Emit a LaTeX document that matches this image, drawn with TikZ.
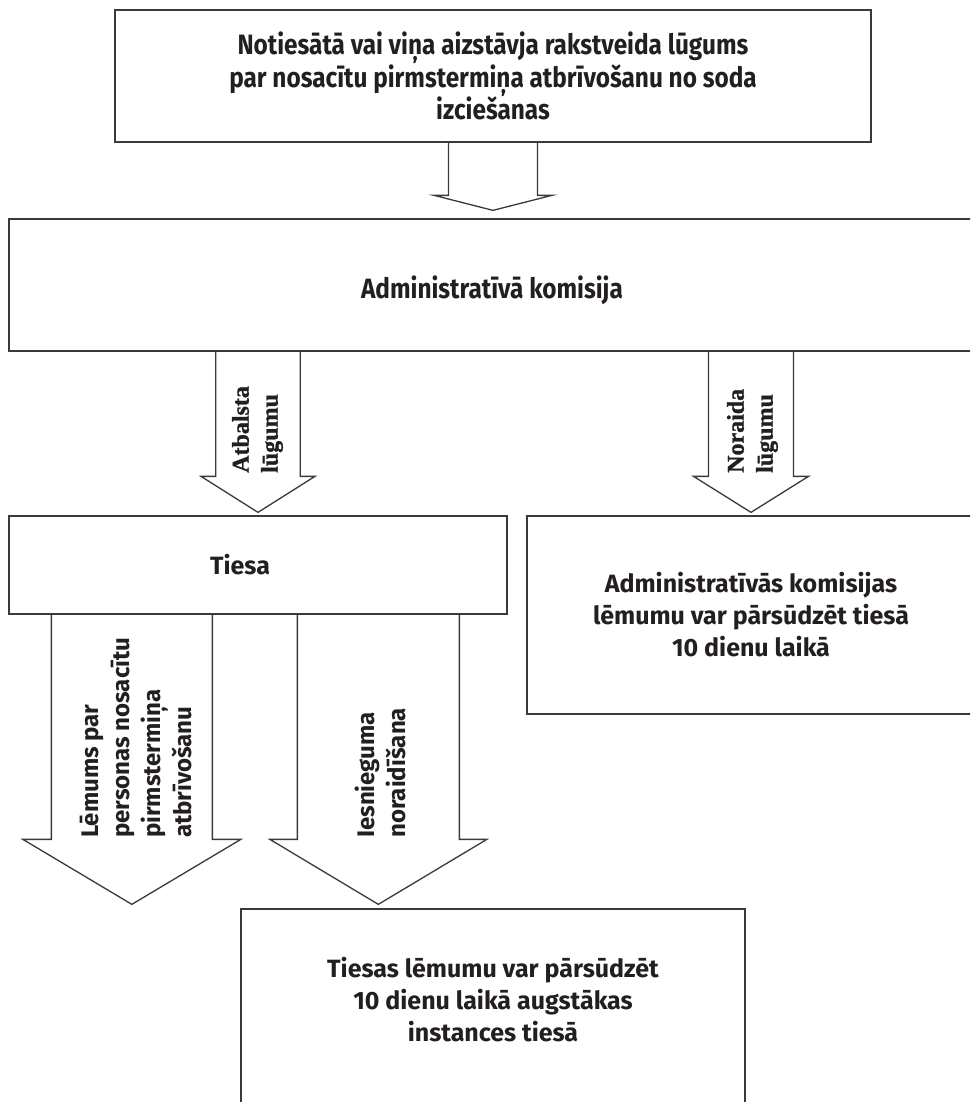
\documentclass[tikz,border=0pt]{standalone}
\usepackage{fontspec}
\setmainfont{Fira Sans}
\newfontfamily\condfont[FakeStretch=0.87]{Fira Sans}
\newfontfamily\serifb[BoldFeatures={FakeBold=1.2}]{Liberation Serif}
\usetikzlibrary{calc}
\definecolor{lc}{HTML}{3A3A3A}
\definecolor{tc}{HTML}{231F20}
\newcommand\barrow[6]{%
  \draw[arrowline] let \p1=(#1), \p2=(#2) in
    (\x1-#3pt,\y1) -- (\x1-#3pt,\y2+#6pt+#5pt) -- (\x1-#4pt,\y2+#6pt+#5pt)
    -- (\x1,\y2+#6pt) -- (\x1+#4pt,\y2+#6pt+#5pt) -- (\x1+#3pt,\y2+#6pt+#5pt)
    -- (\x1+#3pt,\y1);}
\begin{document}
\begin{tikzpicture}[x=1pt,y=-1pt,
  box/.style={draw=lc, line width=1.3pt, inner sep=0pt, align=center, text=tc},
  arrowline/.style={draw=lc, line width=1.3pt, line join=miter},
  toptext/.style={font=\condfont\bfseries\fontsize{28}{31}\selectfont, text=tc, align=center},
  boldtext/.style={font=\bfseries\fontsize{25}{32}\selectfont, text=tc, align=center},
  vlabel/.style={font=\bfseries\fontsize{24}{31}\selectfont, text=tc, rotate=90, align=left, anchor=west, inner sep=0pt},
  vserif/.style={font=\serifb\bfseries\fontsize{24}{29}\selectfont, text=tc, rotate=90, align=left, anchor=west, inner sep=0pt}]
\path[use as bounding box] (0,0) rectangle (970,1102);
\clip (0,0) rectangle (970,1102);
\fill[white] (0,0) rectangle (970,1102);

\node[box, toptext, minimum width=756pt, minimum height=132pt] (top) at (493,76)
  {Notiesātā vai viņa aizstāvja rakstveida lūgums\\par nosacītu pirmstermiņa atbrīvošanu no soda\\izciešanas};

\node[box, minimum width=966pt, minimum height=132pt,
  label={[toptext, yshift=-5pt]center:Administratīvā komisija}] (admin) at (492,285) {};

\node[box, minimum width=498pt, minimum height=98pt,
  label={[boldtext, xshift=-18pt]center:Tiesa}] (tiesa) at (258,565) {};

\node[box, boldtext, minimum width=448pt, minimum height=198pt] (komis) at (751,615)
  {Administratīvās komisijas\\lēmumu var pārsūdzēt tiesā\\10 dienu laikā};

\node[box, minimum width=504pt, minimum height=201pt,
  label={[boldtext, yshift=9.5pt]center:Tiesas lēmumu var pārsūdzēt\\10 dienu laikā augstākas\\instances tiesā}] (bottom) at (493,1009.5) {};

\coordinate (c1) at ($(tiesa.south west)+(123.5,0)$);
\coordinate (c2) at ($(tiesa.south west)+(370,0)$);

\barrow{top.south}{admin.north}{44.5}{59}{15}{8}
\barrow{admin.south -| tiesa.north}{tiesa.north}{42.3}{57}{36}{3}
\barrow{admin.south -| komis.north}{komis.north}{42.5}{57.5}{36}{3}
\barrow{c1}{bottom.north}{80.5}{109}{65}{4}
\barrow{c2}{bottom.north}{81}{108.5}{65}{4}

\node[vserif] (l1) at (257.5,473) {Atbalsta\\lūgumu};
\node[vserif] (l2) at (752.5,473) {Noraida\\lūgumu};
\node[vlabel] (l3) at (136.5,838) {Lēmums par\\personas nosacītu\\pirmstermiņa\\atbrīvošanu};
\node[vlabel] (l4) at (380,838) {Iesnieguma\\noraidīšana};
\end{tikzpicture}
\end{document}
